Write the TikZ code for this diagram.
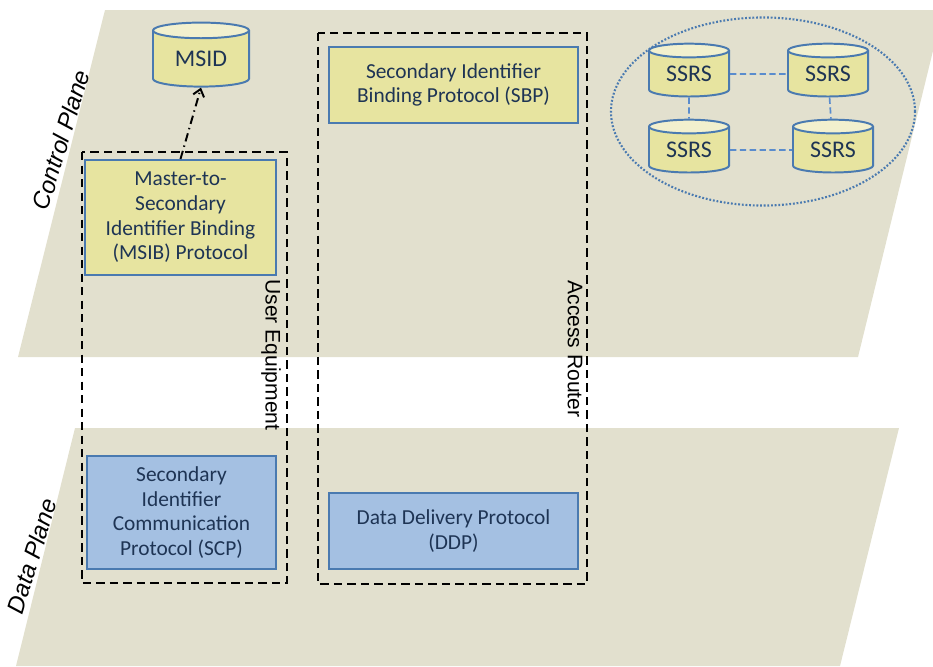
\documentclass[tikz,border=0pt]{standalone}
\usepackage{fontspec}
\setmainfont{Carlito}
\newfontfamily\labelfont{Liberation Sans}
\usetikzlibrary{shapes.geometric,arrows.meta}
\definecolor{planefill}{RGB}{226,224,206}
\definecolor{boxyellow}{RGB}{231,228,160}
\definecolor{topyellow}{RGB}{242,240,206}
\definecolor{boxblue}{RGB}{164,192,226}
\definecolor{edgeblue}{RGB}{74,122,176}
\definecolor{linkblue}{RGB}{90,140,205}
\definecolor{textnavy}{RGB}{30,52,84}
\begin{document}
\begin{tikzpicture}[
  x=0.025cm, y=-0.025cm,
  plane/.style={fill=planefill,draw=none},
  planelabel/.style={font=\labelfont\itshape\fontsize{17}{20}\selectfont,rotate=73},
  devicebox/.style={draw=black,line width=1.7pt,dash pattern=on 6pt off 3.6pt},
  devicelabel/.style={font=\labelfont\fontsize{15}{18}\selectfont,rotate=-90},
  protobox/.style={draw=edgeblue,line width=1.4pt,align=center,text=textnavy,
    font=\fontsize{15.2}{17.5}\selectfont,inner sep=2pt},
  yellowbox/.style={protobox,fill=boxyellow},
  bluebox/.style={protobox,fill=boxblue,line width=0.8pt},
  store/.style={cylinder,shape border rotate=90,aspect=0.3,draw=edgeblue,line width=1.4pt,
    cylinder uses custom fill,cylinder body fill=boxyellow,cylinder end fill=topyellow,
    text=textnavy,font=\fontsize{17}{19}\selectfont,inner sep=0pt},
  peerlink/.style={draw=linkblue,line width=1.2pt,dash pattern=on 4.5pt off 2.5pt}
]
  \clip (0,0) rectangle (933,666);

  % planes
  \fill[plane] (105,10) -- (943,10) -- (858,357) -- (18,357) -- cycle;
  \fill[plane] (75,428) -- (899,428) -- (840,666) -- (16,666) -- cycle;
  \node[planelabel] (cplabel) at (61,140) {Control Plane};
  \node[planelabel] (dplabel) at (32,556) {Data Plane};

  % devices
  \draw[devicebox] (82,152) rectangle (287,583);
  \draw[devicebox] (318,33) rectangle (587,584);
  \node[devicelabel] (uelabel) at (271,355) {User Equipment};
  \node[devicelabel] (arlabel) at (575,349) {Access Router};

  % protocols
  \node[yellowbox,minimum width=4.775cm,minimum height=2.875cm] (msib) at (180.5,217.5)
    {Master-to-\\Secondary\\Identifier Binding\\(MSIB) Protocol};
  \node[yellowbox,minimum width=6.225cm,minimum height=1.9cm] (sbp) at (453.5,85)
    {Secondary Identifier\\Binding Protocol (SBP)};
  \node[bluebox,minimum width=4.725cm,minimum height=2.825cm] (scp) at (181.5,512.5)
    {Secondary\\Identifier\\Communication\\Protocol (SCP)};
  \node[bluebox,minimum width=6.225cm,minimum height=1.9cm] (ddp) at (453.5,531)
    {Data Delivery Protocol\\(DDP)};

  % stores
  \node[store,minimum width=2.4cm,minimum height=1.6cm] (msid) at (201,59) {MSID};
  \draw[line width=1.4pt,dash pattern=on 6pt off 3pt on 1pt off 3pt,-{Straight Barb[length=5pt,width=8pt]}]
    (msib.north) -- (msid.south);

  \node[draw=edgeblue,line width=1.5pt,dash pattern=on 1.3pt off 1.3pt,ellipse,
    minimum width=7.6cm,minimum height=4.7cm] (cluster) at (763,111.5) {};
  \node[store,minimum width=2cm,minimum height=1.32cm] (ssrs1) at (689,74) {SSRS};
  \node[store,minimum width=2cm,minimum height=1.32cm] (ssrs2) at (828,74) {SSRS};
  \node[store,minimum width=2cm,minimum height=1.32cm] (ssrs3) at (689,150) {SSRS};
  \node[store,minimum width=2cm,minimum height=1.32cm] (ssrs4) at (833,150) {SSRS};
  \draw[peerlink] (ssrs1) -- (ssrs2);
  \draw[peerlink] (ssrs3) -- (ssrs4);
  \draw[peerlink] (ssrs1) -- (ssrs3);
  \draw[peerlink] (ssrs2) -- (ssrs4);
\end{tikzpicture}
\end{document}
